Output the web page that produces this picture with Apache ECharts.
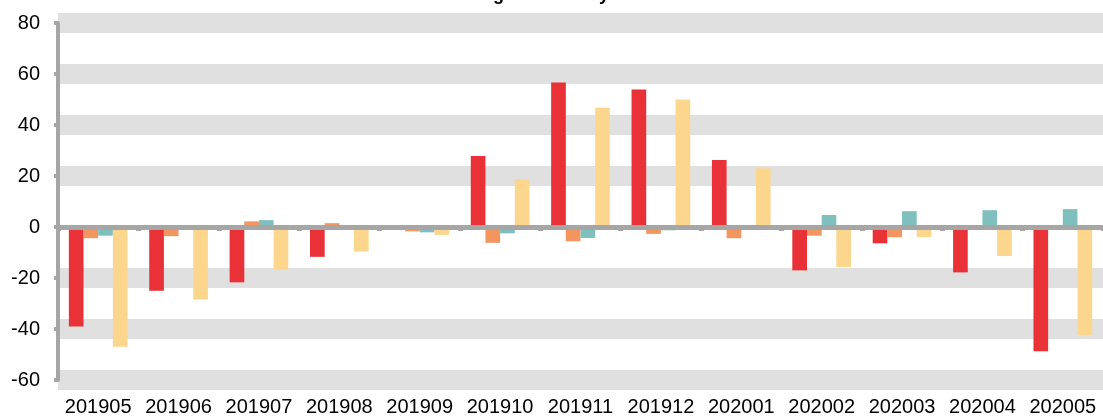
<!DOCTYPE html>
<html>
<head>
<meta charset="utf-8">
<script src="https://cdn.jsdelivr.net/npm/echarts@6/dist/echarts.min.js"></script>
<style>
html, body { margin: 0; padding: 0; background: #fff; }
#chart-01 { width: 1103px; height: 417px; }
</style>
</head>
<body>
<div id="chart-01"></div>
<script>
var categories = ['201905', '201906', '201907', '201908', '201909', '201910', '201911', '201912', '202001', '202002', '202003', '202004', '202005'];
var seriesA = [-39, -25, -21.7, -11.7, -0.5, 27.8, 56.7, 53.9, 26.3, -17, -6.4, -17.8, -48.7];
var seriesB = [-4.4, -3.6, 2.2, 1.5, -1.7, -6.2, -5.6, -2.7, -4.4, -3.4, -4.0, 0, 0];
var seriesC = [-3.4, 0, 2.7, 0, -2.1, -2.5, -4.3, -1.3, 0, 4.7, 6.2, 6.6, 7.0];
var seriesD = [-47, -28.4, -16.7, -9.6, -3.1, 18.7, 46.8, 50.0, 23, -15.7, -4.0, -11.4, -42.4];
var yTicks = { min: -60, max: 80, interval: 20 };

var band = '#e0e0e0';
var myChart01 = echarts.init(document.getElementById('chart-01'));
option01 = {
    animation: false,
    color: ['#e83238', '#f2955e', '#7fc0bf', '#fdd68d'],
    textStyle: { fontFamily: 'Liberation Sans, Arial, sans-serif' },
    title: {
        text: 'Change in Monthly Returns',
        left: 443,
        top: -19,
        textStyle: { fontSize: 18, fontWeight: 'bold', color: '#000' }
    },
    grid: { left: 58, right: -3, top: 23, bottom: 35 },
    xAxis: [
        {
            type: 'category',
            data: categories,
            position: 'bottom',
            axisLine: { show: false, onZero: false },
            axisTick: { show: false },
            axisLabel: { color: '#000', fontSize: 20, margin: 17, interval: 0 },
            splitLine: { show: false }
        },
        {
            type: 'category',
            data: categories,
            position: 'bottom',
            z: 10,
            axisLine: { onZero: true, lineStyle: { color: '#a6a6a6', width: 5 } },
            axisTick: { show: true, length: 4, lineStyle: { color: '#a6a6a6', width: 5 } },
            axisLabel: { show: false },
            splitLine: { show: false }
        }
    ],
    yAxis: {
        type: 'value',
        min: yTicks.min,
        max: yTicks.max,
        interval: yTicks.interval,
        axisLine: { show: true, lineStyle: { color: '#a6a6a6', width: 4 } },
        axisTick: { show: true, length: 4, lineStyle: { color: '#a6a6a6', width: 4 } },
        axisLabel: { color: '#000', fontSize: 20, margin: 18 },
        splitLine: {
            show: true,
            lineStyle: {
                width: 20,
                color: [band, band, band, 'rgba(0,0,0,0)', band, band, band, band]
            }
        }
    },
    series: [
        { name: 'A', type: 'bar', barGap: 0, barCategoryGap: '27%', data: seriesA },
        { name: 'B', type: 'bar', barGap: 0, barCategoryGap: '27%', data: seriesB },
        { name: 'C', type: 'bar', barGap: 0, barCategoryGap: '27%', data: seriesC },
        { name: 'D', type: 'bar', barGap: 0, barCategoryGap: '27%', data: seriesD }
    ]
};
myChart01.setOption(option01);
</script>
</body>
</html>
